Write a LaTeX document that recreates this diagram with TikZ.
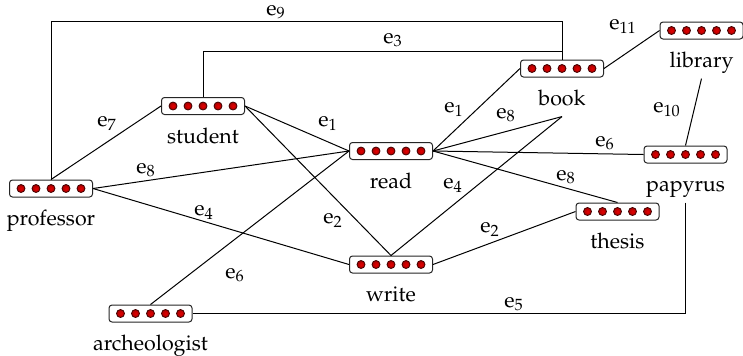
\documentclass[tikz,border=0pt]{standalone}
\usepackage[T1]{fontenc}
\usepackage{mathpazo}
\usetikzlibrary{calc}

% one unit = 0.5pt, y grows downwards
\tikzset{
  ebox/.style={draw=black!85, fill=white, rounded corners=1.5pt,
    minimum width=41.5pt, minimum height=8.5pt, inner sep=0pt, line width=0.5pt},
  edot/.style={inner color=red!90!black, outer color=red!65!black,
    draw=red!25!black, line width=0.4pt},
  etext/.style={font=\fontsize{10.7}{12}\selectfont, anchor=base,
    text depth=2pt, inner sep=3.33pt},
  link/.style={line width=0.5pt, draw=black},
  elab/.style={font=\fontsize{10.7}{12}\selectfont, inner sep=0pt}
}

% an entity: rounded box with five red balls and its name underneath
\newcommand\entity[4]{%
  \node[ebox] (#1) at (#2,#3) {};
  \foreach \k in {-30,-15,0,15,30}
    \path[edot] ($(#1.center)+(\k,0)$) circle (2pt);
  \node[etext] (#1-t) at ($(#1.center)+(0,37)$) {#4};
}

\begin{document}
\begin{tikzpicture}[x=0.5pt,y=-0.5pt]
  \useasboundingbox (0,0) rectangle (743,355);

  % entities
  \entity{student}{203}{106}{student}
  \entity{prof}{51}{188.5}{professor}
  \entity{read}{391}{151}{read}
  \entity{book}{562}{68.5}{book}
  \entity{library}{701.5}{30.5}{library}
  \entity{papyrus}{685.5}{154.5}{papyrus}
  \entity{thesis}{617.5}{211.5}{thesis}
  \entity{write}{391}{264.5}{write}
  \entity{arch}{150.5}{313.5}{archeologist}

  \coordinate (top9) at (0,21);
  \coordinate (top3) at (0,51);

  % connectors
  \draw[link] (prof.north) |- (book.north |- top9) -- (book.north);
  \draw[link] (student.north) |- (book.north |- top3) -- (book.north);
  \draw[link] (prof.north) -- (student.west);
  \draw[link] (prof.east) -- (read.west);
  \draw[link] (prof.east) -- (write.west);
  \draw[link] (student.east) -- (read.west);
  \draw[link] (student.east) -- (write.north);
  \draw[link] (arch.north) -- (read.west);
  \draw[link] (read.east) -- (book.west);
  \draw[link] (read.east) -- (book-t.south);
  \draw[link] (write.north) -- (book-t.south);
  \draw[link] (read.east) -- (papyrus.west);
  \draw[link] (read.east) -- (thesis.north);
  \draw[link] (write.east) -- (thesis.west);
  \draw[link] (papyrus-t.south) |- (arch.east);
  \draw[link] (library-t.south) -- (papyrus.north);
  \draw[link] (book.east) -- (library.west);

  % edge names
  \node[elab] (l9)  at (276,12)  {e$_{9}$};
  \node[elab] (l3)  at (393,40)  {e$_{3}$};
  \node[elab] (l11) at (623,26)  {e$_{11}$};
  \node[elab] (l7)  at (107,123) {e$_{7}$};
  \node[elab] (l1a) at (328,123) {e$_{1}$};
  \node[elab] (l8a) at (146,170) {e$_{8}$};
  \node[elab] (l1b) at (454,109) {e$_{1}$};
  \node[elab] (l8b) at (506,115) {e$_{8}$};
  \node[elab] (l10) at (667,109) {e$_{10}$};
  \node[elab] (l6a) at (605,143) {e$_{6}$};
  \node[elab] (l8c) at (566,177) {e$_{8}$};
  \node[elab] (l4a) at (453,185) {e$_{4}$};
  \node[elab] (l2a) at (490,229) {e$_{2}$};
  \node[elab] (l5)  at (514,304) {e$_{5}$};
  \node[elab] (l4b) at (204,212) {e$_{4}$};
  \node[elab] (l2b) at (333,220) {e$_{2}$};
  \node[elab] (l6b) at (235,275) {e$_{6}$};
\end{tikzpicture}
\end{document}
